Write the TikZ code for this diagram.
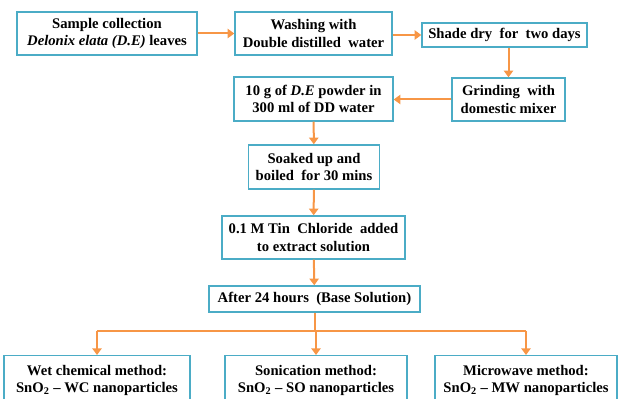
\documentclass[tikz,border=0pt]{standalone}
\usepackage{fontspec}
\setmainfont{Liberation Serif}
\usetikzlibrary{arrows.meta}
\definecolor{boxblue}{RGB}{75,172,198}
\definecolor{arroworange}{RGB}{247,150,70}
\tikzset{
  stepbox/.style={draw=boxblue, line width=1.1pt, fill=white, align=center, inner sep=0pt,
    font=\rmfamily\bfseries\fontsize{11}{12.8}\selectfont},
  flow/.style={draw=arroworange, line width=1.5pt, -{Triangle[length=5pt,width=7pt]}},
  flowline/.style={draw=arroworange, line width=1.5pt}
}

\begin{document}
\begin{tikzpicture}[x=0.75pt,y=0.75pt,yscale=-1,xscale=1]
\useasboundingbox (0,0) rectangle (619,399);

% Text Node
\node [stepbox, minimum width=180*0.75pt, minimum height=43*0.75pt] (collect) at (107,33.5) {Sample collection\\ \textit{Delonix elata (D.E)} leaves};
% Text Node
\node [stepbox, minimum width=157*0.75pt, minimum height=43*0.75pt] (wash) at (313.5,33.5) {Washing with\\ Double distilled \ water};
% Text Node
\node [stepbox, minimum width=165*0.75pt, minimum height=24*0.75pt] (dry) at (504.5,35) {Shade dry \ for \ two days};
% Text Node
\node [stepbox, minimum width=113*0.75pt, minimum height=43*0.75pt] (grind) at (508.5,99.5) {Grinding \ with\\ domestic mixer};
% Text Node
\node [stepbox, minimum width=159*0.75pt, minimum height=44*0.75pt] (powder) at (313.5,99) {10 g of \textit{D.E} powder in\\ 300 ml of DD water};
% Text Node
\node [stepbox, minimum width=131*0.75pt, minimum height=44*0.75pt] (soak) at (314,167) {Soaked up and\\ boiled \ for 30 mins};
% Text Node
\node [stepbox, minimum width=183*0.75pt, minimum height=43*0.75pt] (tin) at (313.5,237.5) {0.1 M Tin \ Chloride \ added\\ to extract solution};
% Text Node
\node [stepbox, minimum width=211*0.75pt, minimum height=26*0.75pt] (base) at (314.5,299) {After 24 hours \ (Base Solution)};

% Text Node
\node [stepbox, minimum width=186*0.75pt, minimum height=50*0.75pt, anchor=north] (wet) at (97,355) {Wet chemical method:\\ SnO\textsubscript{2} -- WC nanoparticles};
% Text Node
\node [stepbox, minimum width=182*0.75pt, minimum height=50*0.75pt, anchor=north] (sono) at (316,355) {Sonication method:\\ SnO\textsubscript{2} -- SO nanoparticles};
% Text Node
\node [stepbox, minimum width=182*0.75pt, minimum height=50*0.75pt, anchor=north] (micro) at (526,355) {Microwave method:\\ SnO\textsubscript{2} -- MW nanoparticles};

%Connectors
\draw [flow] (collect) -- (wash);
\draw [flow] (wash.east |- dry.west) -- (dry.west);
\draw [flow] (dry.south -| grind.north) -- (grind.north);
\draw [flow] (grind.west) -- (powder.east |- grind.west);
\draw [flow] (powder) -- (soak);
\draw [flow] (soak) -- (tin);
\draw [flow] (tin) -- (base);

\coordinate (split) at (314.5,331);
\draw [flowline] (base.south) -- (split);
\draw [flowline] (wet.north |- split) -- (micro.north |- split);
\draw [flow] (wet.north |- split) -- (wet.north);
\draw [flow] (sono.north |- split) -- (sono.north);
\draw [flow] (micro.north |- split) -- (micro.north);

\end{tikzpicture}
\end{document}
